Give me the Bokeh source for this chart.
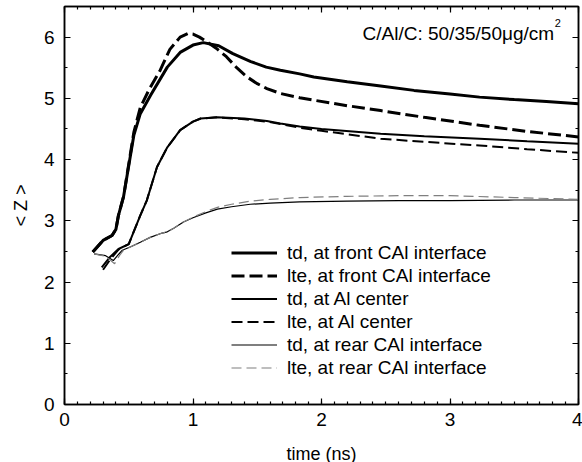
from bokeh.plotting import figure
from bokeh.models import (LinearAxis, SingleIntervalTicker, Legend, LegendItem,
                          Label, Range1d, CustomLabelingPolicy)
from bokeh.embed import file_html
from bokeh.resources import INLINE

FONT = "Liberation Sans"

# ---- data (time in ns, <Z>) ----
front_td_t = [0.22, 0.30, 0.37, 0.40, 0.42, 0.46, 0.54, 0.59, 0.67, 0.80, 0.90, 1.00,
              1.08, 1.20, 1.31, 1.45, 1.57, 1.68, 1.83, 1.94, 2.20, 2.46, 2.72, 3.00,
              3.23, 3.50, 3.75, 4.00]
front_td_z = [2.49, 2.68, 2.76, 2.86, 3.09, 3.40, 4.40, 4.75, 5.05, 5.51, 5.75, 5.87,
              5.91, 5.86, 5.73, 5.60, 5.51, 5.46, 5.40, 5.35, 5.27, 5.20, 5.13, 5.07,
              5.02, 4.98, 4.95, 4.91]

front_lte_t = [0.22, 0.30, 0.37, 0.40, 0.42, 0.46, 0.54, 0.59, 0.66, 0.745, 0.82, 0.90,
               0.96, 1.00, 1.05, 1.11, 1.18, 1.26, 1.34, 1.42, 1.50, 1.575, 1.68, 1.83,
               1.94, 2.20, 2.46, 2.80, 3.23, 3.60, 4.00]
front_lte_z = [2.49, 2.68, 2.76, 2.86, 3.09, 3.40, 4.45, 4.85, 5.15, 5.46, 5.80, 6.00,
               6.06, 6.05, 6.00, 5.92, 5.82, 5.68, 5.50, 5.35, 5.24, 5.16, 5.08, 5.01,
               4.97, 4.88, 4.80, 4.69, 4.56, 4.46, 4.37]

al_td_t = [0.29, 0.35, 0.42, 0.50, 0.55, 0.59, 0.64, 0.72, 0.80, 0.90, 1.00, 1.06, 1.19,
           1.40, 1.575, 1.68, 1.83, 2.00, 2.46, 2.80, 3.23, 3.60, 4.00]
al_td_z = [2.24, 2.40, 2.54, 2.62, 2.88, 3.09, 3.33, 3.88, 4.20, 4.48, 4.62, 4.67, 4.69,
           4.67, 4.63, 4.59, 4.54, 4.50, 4.42, 4.38, 4.34, 4.30, 4.26]

al_lte_t = [0.30, 0.36, 0.42, 0.50, 0.55, 0.59, 0.64, 0.72, 0.80, 0.90, 1.00, 1.06, 1.19,
            1.40, 1.575, 1.68, 1.83, 2.00, 2.46, 2.80, 3.23, 3.60, 4.00]
al_lte_z = [2.20, 2.38, 2.53, 2.62, 2.88, 3.09, 3.33, 3.88, 4.20, 4.48, 4.62, 4.67, 4.69,
            4.66, 4.62, 4.58, 4.52, 4.47, 4.34, 4.29, 4.23, 4.17, 4.11]

rear_td_t = [0.23, 0.32, 0.38, 0.42, 0.45, 0.52, 0.59, 0.667, 0.76, 0.80, 0.85, 0.926,
             1.00, 1.10, 1.19, 1.30, 1.445, 1.60, 1.83, 2.20, 2.60, 3.00, 3.50, 4.00]
rear_td_z = [2.46, 2.43, 2.35, 2.45, 2.52, 2.58, 2.65, 2.73, 2.80, 2.82, 2.88, 2.98,
             3.05, 3.13, 3.19, 3.23, 3.27, 3.29, 3.31, 3.32, 3.33, 3.33, 3.34, 3.34]

rear_lte_t = [0.23, 0.32, 0.39, 0.43, 0.46, 0.52, 0.59, 0.667, 0.76, 0.80, 0.85, 0.926,
              1.00, 1.10, 1.19, 1.30, 1.445, 1.60, 1.83, 2.20, 2.60, 3.00, 3.50, 4.00]
rear_lte_z = [2.46, 2.42, 2.30, 2.44, 2.52, 2.58, 2.65, 2.73, 2.80, 2.82, 2.88, 2.98,
              3.06, 3.15, 3.22, 3.27, 3.32, 3.35, 3.38, 3.40, 3.41, 3.41, 3.38, 3.35]

legend_labels = ["td, at front CAl interface", "lte, at front CAl interface",
                 "td, at Al center", "lte, at Al center",
                 "td, at rear CAl interface", "lte, at rear CAl interface"]

x_start, x_end = 0, 4
y_start, y_end = 0, 6.5

p = figure(frame_width=514, frame_height=398,
           x_range=Range1d(x_start, x_end), y_range=Range1d(y_start, y_end),
           output_backend="svg", toolbar_location=None,
           min_border_left=64, min_border_right=4, min_border_top=6, min_border_bottom=58)
p.xgrid.visible = False
p.ygrid.visible = False
p.outline_line_color = "black"
p.outline_line_width = 1.5
p.background_fill_color = "white"
p.border_fill_color = "white"

xt = SingleIntervalTicker(interval=1, num_minor_ticks=10)
yt = SingleIntervalTicker(interval=1, num_minor_ticks=2)

p.add_layout(LinearAxis(major_label_policy=CustomLabelingPolicy(code="return new Set()")), "above")
p.add_layout(LinearAxis(major_label_policy=CustomLabelingPolicy(code="return new Set()")), "right")

for ax in p.xaxis:
    ax.ticker = xt
for ax in p.yaxis:
    ax.ticker = yt

for ax in p.axis:
    ax.axis_line_color = "black"
    ax.axis_line_width = 1.5
    ax.major_tick_in = 6
    ax.major_tick_out = 0
    ax.minor_tick_in = 3
    ax.minor_tick_out = 0
    ax.major_tick_line_width = 1.2
    ax.minor_tick_line_width = 1.2
    ax.major_label_text_font = FONT
    ax.major_label_text_font_size = "19px"
    ax.major_label_text_color = "black"
    ax.axis_label_text_font = FONT
    ax.axis_label_text_font_size = "18px"
    ax.axis_label_text_font_style = "normal"
    ax.axis_label_text_color = "black"

p.above[0].major_label_text_font_size = "1px"
p.above[0].major_label_standoff = 0
p.right[0].major_label_text_font_size = "1px"
p.right[0].major_label_standoff = 0

bx = p.below[0]
bx.axis_label = "time (ns)"
bx.major_label_standoff = 8
bx.axis_label_standoff = 15
ly = p.left[0]
ly.axis_label = "< Z >"
ly.major_label_standoff = 10
ly.axis_label_standoff = 10

r1 = p.line(front_td_t, front_td_z, line_color="black", line_width=3)
r2 = p.line(front_lte_t, front_lte_z, line_color="black", line_width=3, line_dash="13 5")
r3 = p.line(al_td_t, al_td_z, line_color="black", line_width=2)
r4 = p.line(al_lte_t, al_lte_z, line_color="black", line_width=2, line_dash="11 5")
r5 = p.line(rear_td_t, rear_td_z, line_color="black", line_width=1.2)
r6 = p.line(rear_lte_t, rear_lte_z, line_color="#7f7f7f", line_width=1.2, line_dash="10 5")

items = [LegendItem(label=lab, renderers=[r]) for lab, r in
         zip(legend_labels, [r1, r2, r3, r4, r5, r6])]
legend = Legend(items=items, location=(167, 25),
                glyph_width=46, glyph_height=23, label_height=23,
                label_standoff=10, spacing=0, padding=0, margin=0,
                border_line_color=None, background_fill_alpha=0,
                label_text_font=FONT, label_text_font_size="19px",
                label_text_color="black")
p.add_layout(legend, "center")

ann = Label(x=3.81, y=6.06, text="C/Al/C: 50/35/50μg/cm", text_align="right",
            text_baseline="alphabetic", text_font=FONT, text_font_size="19px",
            text_color="black")
sup = Label(x=3.815, y=6.23, text="2", text_align="left",
            text_baseline="alphabetic", text_font=FONT, text_font_size="11px",
            text_color="black")
p.add_layout(ann)
p.add_layout(sup)

open("out.html", "w").write(file_html(p, INLINE))
